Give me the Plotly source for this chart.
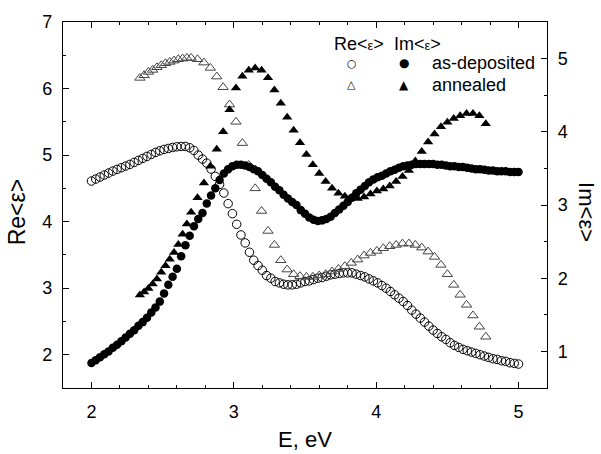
import numpy as np
import plotly.graph_objects as go

# ---------------- data ----------------
# as-deposited: energy grid 2.00 ... 5.00 eV, step 0.03
E_dep = np.round(2.0 + 0.03 * np.arange(101), 2)
re_dep = [4.61, 4.64, 4.67, 4.70, 4.73, 4.76, 4.785, 4.81, 4.835, 4.86,
          4.89, 4.92, 4.95, 4.98, 5.01, 5.04, 5.065, 5.085, 5.10, 5.115,
          5.125, 5.13, 5.13, 5.11, 5.07, 5.00, 4.94, 4.88, 4.79, 4.68,
          4.56, 4.43, 4.27, 4.12, 3.96, 3.80, 3.68, 3.54, 3.42, 3.34,
          3.27, 3.19, 3.15, 3.10, 3.08, 3.06, 3.05, 3.05, 3.06, 3.08,
          3.10, 3.11, 3.13, 3.15, 3.16, 3.18, 3.20, 3.21, 3.22, 3.23,
          3.23, 3.23, 3.21, 3.19, 3.17, 3.14, 3.11, 3.08, 3.04, 3.00,
          2.95, 2.90, 2.85, 2.80, 2.74, 2.67, 2.61, 2.55, 2.49, 2.43,
          2.37, 2.32, 2.27, 2.23, 2.18, 2.14, 2.11, 2.08, 2.06, 2.04,
          2.02, 2.00, 1.98, 1.96, 1.94, 1.93, 1.91, 1.90, 1.88, 1.87, 1.86]
im_dep = [0.84, 0.88, 0.92, 0.96, 1.00, 1.05, 1.09, 1.14, 1.19, 1.24,
          1.29, 1.35, 1.40, 1.46, 1.53, 1.60, 1.68, 1.79, 1.91, 2.02,
          2.13, 2.30, 2.45, 2.58, 2.71, 2.81, 2.89, 3.02, 3.13, 3.23,
          3.34, 3.43, 3.49, 3.53, 3.55, 3.55, 3.54, 3.52, 3.49, 3.46,
          3.41, 3.36, 3.31, 3.25, 3.20, 3.14, 3.09, 3.04, 3.00, 2.93,
          2.88, 2.83, 2.80, 2.78, 2.79, 2.81, 2.84, 2.89, 2.94, 2.99,
          3.04, 3.10, 3.16, 3.21, 3.26, 3.31, 3.35, 3.38, 3.40, 3.43,
          3.46, 3.48, 3.51, 3.53, 3.54, 3.55, 3.56, 3.56, 3.56, 3.56,
          3.56, 3.55, 3.55, 3.54, 3.53, 3.53, 3.52, 3.52, 3.51, 3.50,
          3.49, 3.49, 3.48, 3.47, 3.47, 3.46, 3.46, 3.46, 3.45, 3.45, 3.45]

# annealed
E_ann = [2.34, 2.37, 2.40, 2.43, 2.46, 2.49, 2.52, 2.55, 2.58, 2.61, 2.64, 2.67, 2.70,
         2.745, 2.79, 2.835, 2.88, 2.925, 2.97, 3.015, 3.06, 3.105, 3.15, 3.195, 3.24,
         3.285, 3.33, 3.375, 3.42, 3.465, 3.51, 3.555, 3.60, 3.645, 3.69, 3.735, 3.78,
         3.825, 3.87, 3.915, 3.96, 4.005, 4.05, 4.095, 4.14, 4.185, 4.23, 4.275, 4.32,
         4.365, 4.41, 4.455, 4.50, 4.545, 4.59, 4.635, 4.68, 4.725, 4.77]
re_ann = [6.16, 6.20, 6.25, 6.28, 6.32, 6.35, 6.38, 6.40, 6.42, 6.44, 6.45, 6.46, 6.46,
          6.44, 6.39, 6.31, 6.18, 6.02, 5.76, 5.50, 5.18, 4.85, 4.50, 4.16, 3.86,
          3.65, 3.42, 3.28, 3.21, 3.18, 3.17, 3.17, 3.19, 3.21, 3.25, 3.29, 3.33,
          3.38, 3.43, 3.49, 3.53, 3.56, 3.60, 3.63, 3.65, 3.67, 3.67, 3.65, 3.61,
          3.55, 3.47, 3.35, 3.21, 3.05, 2.90, 2.75, 2.59, 2.42, 2.27]
im_ann = [1.77, 1.81, 1.86, 1.92, 1.99, 2.08, 2.17, 2.26, 2.35, 2.46, 2.60, 2.74, 2.90,
          3.10, 3.30, 3.53, 3.76, 4.00, 4.30, 4.60, 4.76, 4.84, 4.87, 4.84, 4.74,
          4.57, 4.39, 4.20, 4.02, 3.85, 3.69, 3.55, 3.43, 3.32, 3.23, 3.16, 3.12,
          3.10, 3.09, 3.11, 3.15, 3.19, 3.22, 3.26, 3.32, 3.39, 3.47, 3.60, 3.73,
          3.86, 3.97, 4.07, 4.13, 4.18, 4.22, 4.25, 4.25, 4.22, 4.11]

x_ticks = [2, 3, 4, 5]
y1_ticks = [2, 3, 4, 5, 6, 7]
y2_ticks = [1, 2, 3, 4, 5]

# ---------------- figure ----------------
fig = go.Figure()
fig.add_trace(go.Scatter(x=E_dep, y=re_dep, mode="markers", name="Re as-deposited",
                         marker=dict(symbol="circle-open", size=8.5, color="black",
                                     line=dict(width=1, color="black"))))
fig.add_trace(go.Scatter(x=E_ann, y=re_ann, mode="markers", name="Re annealed",
                         marker=dict(symbol="triangle-up-open", size=9, color="#444",
                                     line=dict(width=1, color="#444"))))
fig.add_trace(go.Scatter(x=E_dep, y=im_dep, mode="markers", name="Im as-deposited", yaxis="y2",
                         marker=dict(symbol="circle", size=8.5, color="black")))
fig.add_trace(go.Scatter(x=E_ann, y=im_ann, mode="markers", name="Im annealed", yaxis="y2",
                         marker=dict(symbol="triangle-up", size=9, color="black")))

axis_common = dict(showgrid=False, zeroline=False, showline=True, linecolor="black",
                   linewidth=1.3, ticks="inside", ticklen=6, tickwidth=1.3,
                   tickcolor="black", tickfont=dict(size=18, color="black"))

fig.update_layout(
    width=601, height=454,
    margin=dict(l=63, r=54, t=15, b=66),
    plot_bgcolor="white", paper_bgcolor="white",
    showlegend=False,
    font=dict(family="Liberation Sans, Arial, sans-serif", color="black"),
    xaxis=dict(range=[1.8, 5.2], tickvals=x_ticks, mirror="ticks",
               ticklabelstandoff=7,
               minor=dict(dtick=0.2, tick0=2, ticks="inside", ticklen=3, tickwidth=1,
                          tickcolor="black"),
               **axis_common),
    yaxis=dict(range=[1.5, 7], tickvals=y1_ticks, mirror=False,
               ticklabelstandoff=6,
               minor=dict(dtick=0.5, tick0=2, ticks="inside", ticklen=3, tickwidth=1,
                          tickcolor="black"),
               **axis_common),
    yaxis2=dict(range=[0.5, 5.5], tickvals=y2_ticks, overlaying="y", side="right",
                ticklabelstandoff=6,
                minor=dict(dtick=0.5, tick0=1, ticks="inside", ticklen=3, tickwidth=1,
                           tickcolor="black"),
                **axis_common),
)

# axis titles
fig.add_annotation(text="E, eV", xref="paper", yref="paper", x=0.5, y=-0.14,
                   showarrow=False, font=dict(size=22), xanchor="center", yanchor="middle")
fig.add_annotation(text="Re&lt;ε&gt;", xref="paper", yref="paper", x=-0.095, y=0.48,
                   showarrow=False, font=dict(size=23), textangle=-90,
                   xanchor="center", yanchor="middle")
fig.add_annotation(text="Im&lt;ε&gt;", xref="paper", yref="paper", x=1.081, y=0.48,
                   showarrow=False, font=dict(size=22), textangle=90,
                   xanchor="center", yanchor="middle")

# legend (header row + two rows)
small_eps = "<span style='font-size:13px'>ε</span>"
fig.add_annotation(text="Re&lt;" + small_eps + "&gt;", xref="paper", yref="paper",
                   x=0.556, y=0.941, showarrow=False, font=dict(size=18),
                   xanchor="left", yanchor="middle")
fig.add_annotation(text="Im&lt;" + small_eps + "&gt;", xref="paper", yref="paper",
                   x=0.680, y=0.941, showarrow=False, font=dict(size=18),
                   xanchor="left", yanchor="middle")
legend_rows = [("○", "●", "as-deposited", 0.887), ("△", "▲", "annealed", 0.828)]
for open_sym, fill_sym, label, yy in legend_rows:
    fig.add_annotation(text=open_sym, xref="paper", yref="paper", x=0.597, y=yy,
                       showarrow=False, font=dict(size=11, family="DejaVu Sans"),
                       xanchor="center", yanchor="middle")
    fig.add_annotation(text=fill_sym, xref="paper", yref="paper", x=0.705, y=yy,
                       showarrow=False, font=dict(size=12, family="DejaVu Sans"),
                       xanchor="center", yanchor="middle")
    fig.add_annotation(text=label, xref="paper", yref="paper", x=0.758, y=yy,
                       showarrow=False, font=dict(size=18),
                       xanchor="left", yanchor="middle")

fig.write_html("out.html")
